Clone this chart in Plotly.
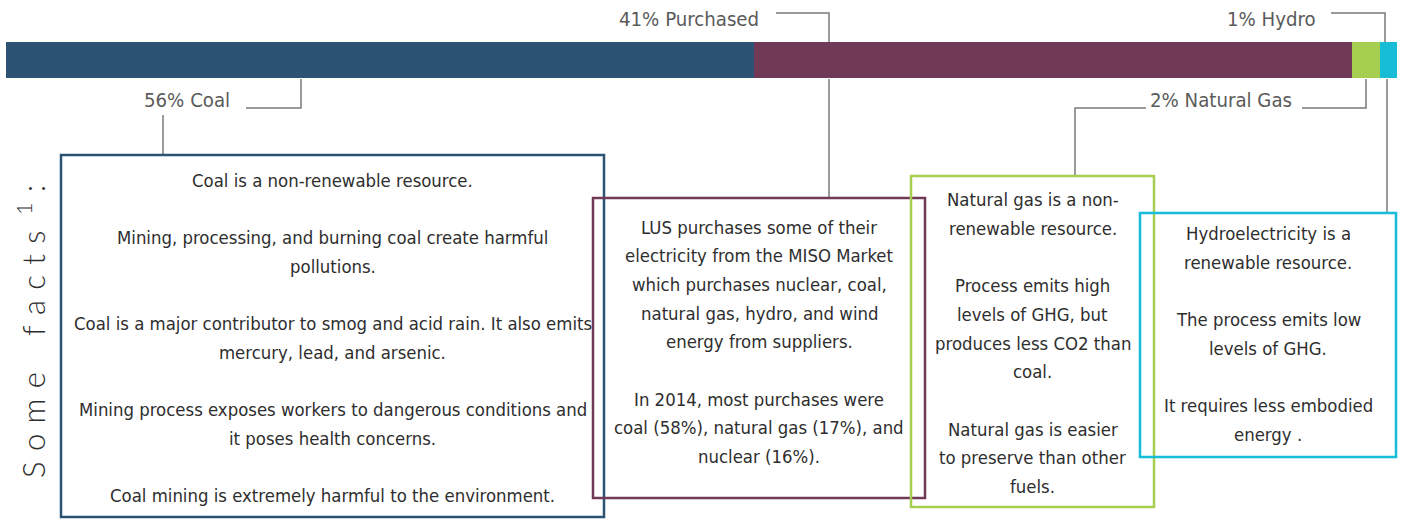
import plotly.graph_objects as go

# ---- data ----
sources = ["Coal", "Purchased", "Natural Gas", "Hydro"]
bar_shares = [53.8, 43.0, 2.0, 1.2]          # segment widths as drawn (% of bar)
label_texts = ["56% Coal", "41% Purchased", "2% Natural Gas", "1% Hydro"]
colors = ["#2c5374", "#703955", "#a6cf50", "#17bcd7"]

coal_facts = ["Coal is a non-renewable resource.", "",
              "Mining, processing, and burning coal create harmful", "pollutions.", "",
              "Coal is a major contributor to smog and acid rain. It also emits",
              "mercury, lead, and arsenic.", "",
              "Mining process exposes workers to dangerous conditions and",
              "it poses health concerns.", "",
              "Coal mining is extremely harmful to the environment."]
purchased_facts = ["LUS purchases some of their", "electricity from the MISO Market",
                   "which purchases nuclear, coal,", "natural gas, hydro, and wind",
                   "energy from suppliers.", "",
                   "In 2014, most purchases were", "coal (58%), natural gas (17%), and",
                   "nuclear (16%)."]
gas_facts = ["Natural gas is a non-", "renewable resource.", "",
             "Process emits high", "levels of GHG, but", "produces less CO2 than", "coal.", "",
             "Natural gas is easier", "to preserve than other", "fuels."]
hydro_facts = ["Hydroelectricity is a", "renewable resource.", "",
               "The process emits low", "levels of GHG.", "",
               "It requires less embodied", "energy ."]
facts = [coal_facts, purchased_facts, gas_facts, hydro_facts]
sp, wsp = "\u2004", "\u2002\u2004\u2004"
side_title = sp.join("Some") + wsp + sp.join("facts") + "\u2002" + "<sup>1</sup>" + sp + ":"

# ---- layout geometry (pixels) ----
W, H = 1403, 519
BAR_L, BAR_R = 6, 1397
unit = (BAR_R - BAR_L) / 100.0
FONT = "DejaVu Sans Condensed, sans-serif"

def px(x):
    return x / W

fig = go.Figure()
for name, val, col in zip(sources, bar_shares, colors):
    fig.add_trace(go.Bar(x=[val], y=[60], width=36, orientation="h", name=name,
                         marker=dict(color=col, line=dict(width=0)),
                         hoverinfo="name+x"))

line_style = dict(color="#7a7a7a", width=1.5)
paths = [
    [(301, 79), (301, 108), (246, 108)],
    [(163, 115), (163, 155)],
    [(776, 13), (829, 13), (829, 42)],
    [(829, 79), (829, 198)],
    [(1366, 79), (1366, 108), (1302, 108)],
    [(1146, 108), (1075, 108), (1075, 176)],
    [(1331, 13), (1385, 13), (1385, 42)],
    [(1387, 79), (1387, 213)],
]
shapes = []
for p in paths:
    d = "M " + " L ".join(f"{px(x):.5f},{y}" for x, y in p)
    shapes.append(dict(type="path", path=d, xref="paper", yref="y", line=line_style))

boxes = [(61, 155, 604, 517), (593, 198, 925, 498), (911, 176, 1154, 507), (1140, 213, 1396, 457)]
for (x0, y0, x1, y1), col in zip(boxes, colors):
    shapes.append(dict(type="rect", xref="paper", yref="y", x0=px(x0), x1=px(x1), y0=y0, y1=y1,
                       line=dict(color=col, width=2.5), fillcolor="rgba(0,0,0,0)"))

annotations = []
label_pos = [(232, 100), (761, 19), (1294, 100), (1318, 19)]
for t, (x, y) in zip(label_texts, label_pos):
    annotations.append(dict(text=t, x=px(x), y=y, xref="paper", yref="y", xanchor="right",
                            yanchor="middle", showarrow=False,
                            font=dict(family=FONT, size=20.2, color="#5a5a5a")))

first_line_y = [180, 227, 199.5, 233.5]
step = 28.7
for lines, (x0, y0, x1, y1), fy in zip(facts, boxes, first_line_y):
    for i, t in enumerate(lines):
        if not t:
            continue
        annotations.append(dict(text=t, x=px((x0 + x1) / 2), y=fy + i * step, xref="paper", yref="y",
                                xanchor="center", yanchor="middle", align="center", showarrow=False,
                                font=dict(family=FONT, size=18.4, color="#2e2e2e")))
annotations.append(dict(text=side_title, x=px(31), y=332, xref="paper", yref="y", textangle=-90,
                        xanchor="center", yanchor="middle", showarrow=False,
                        font=dict(family="Lato, Open Sans, sans-serif", size=31, color="#2e2e2e", weight=300)))

fig.update_layout(
    width=W, height=H, autosize=False,
    margin=dict(l=0, r=0, t=0, b=0),
    paper_bgcolor="white", plot_bgcolor="white",
    barmode="stack", showlegend=False, bargap=0,
    xaxis=dict(range=[-BAR_L / unit, (W - BAR_L) / unit], visible=False, fixedrange=True),
    yaxis=dict(range=[H, 0], visible=False, fixedrange=True),
    shapes=shapes, annotations=annotations,
)
fig.write_html("out.html", config={"displayModeBar": False},
               post_script="document.body.style.margin='0px';")
